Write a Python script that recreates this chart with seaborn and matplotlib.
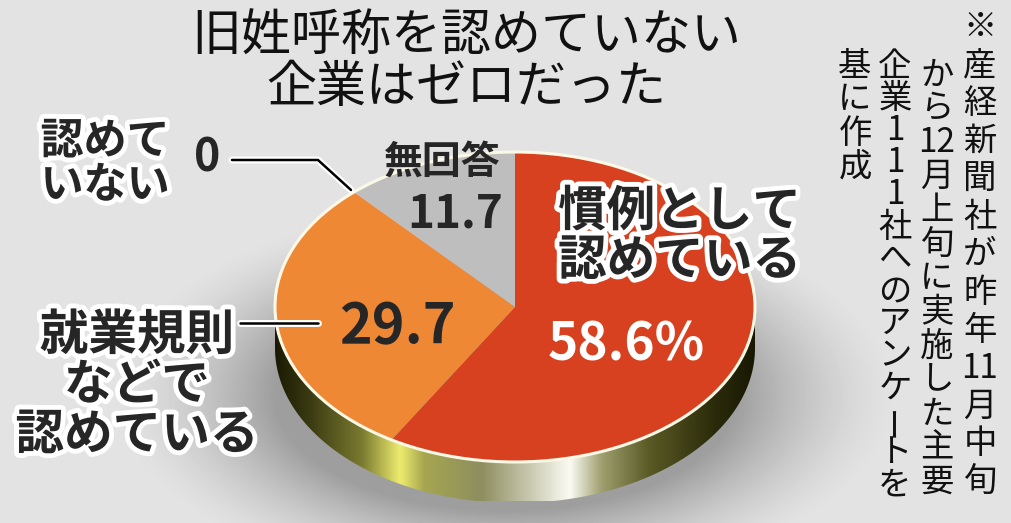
import numpy as np
import matplotlib
matplotlib.use("Agg")
import matplotlib.pyplot as plt
import matplotlib.patheffects as pe
from matplotlib.colors import LinearSegmentedColormap
from matplotlib.patches import Polygon, Ellipse
import seaborn as sns

# --- data ---
categories = ["慣例として\n認めている", "就業規則\nなどで\n認めている", "無回答", "認めて\nいない"]
values = [58.6, 29.7, 11.7, 0]
value_labels = ["58.6%", "29.7", "11.7", "0"]
title_lines = ["旧姓呼称を認めていない", "企業はゼロだった"]
note_columns = [
    ["※", "産", "経", "新", "聞", "社", "が", "昨", "年", "11", "月", "中", "旬"],
    ["か", "ら", "12", "月", "上", "旬", "に", "実", "施", "し", "た", "主", "要"],
    ["企", "業", "1", "1", "1", "社", "へ", "の", "ア", "ン", "ケ", "ー", "ト", "を"],
    ["基", "に", "作", "成"],
]

sns.set_theme(style="white")
plt.rcParams["font.family"] = ["Noto Sans CJK JP", "DejaVu Sans"]
colors = sns.color_palette(["#d8411f", "#ef8834", "#bebebe", "#9a9a9a"])

W, H = 1011, 523
fig = plt.figure(figsize=(W / 100, H / 100), dpi=100)

# background with a soft shadow under the pie
bg = fig.add_axes([0, 0, 1, 1], zorder=0)
yy, xx = np.mgrid[0:H, 0:W]
d = np.hypot((xx - 505) / 300, (yy - 395) / 150)
shade = 0.27 * np.clip((1.32 - d) / 0.55, 0, 1) ** 1.5
bg.imshow(0.89 - shade, cmap="gray", vmin=0, vmax=1, extent=(0, W, H, 0), aspect="auto")
bg.set_xlim(0, W)
bg.set_ylim(H, 0)
bg.axis("off")

# pie, squashed into an ellipse by the axes shape
cx, cy, a, b = 515, 307, 240, 155
depth = 41 / b
pax = fig.add_axes([(cx - 1.25 * a) / W, (H - cy - 1.25 * b) / H, 2.5 * a / W, 2.5 * b / H], zorder=1)
pax.pie(values, colors=colors, startangle=90, counterclock=False, radius=1,
        wedgeprops=dict(linewidth=0, zorder=2))

# metallic rim
t = np.linspace(np.pi, 2 * np.pi, 300)
rim_xy = np.vstack([np.c_[np.cos(t), np.sin(t) - depth],
                    np.c_[np.cos(t[::-1]), np.sin(t[::-1])]])
rim = Polygon(rim_xy, closed=True, facecolor="none", edgecolor="none")
pax.add_patch(rim)
rim_cmap = LinearSegmentedColormap.from_list("rim", [
    (0.00, "#1a1a04"), (0.07, "#3a3a12"), (0.18, "#7a7a30"), (0.26, "#eeec6e"),
    (0.31, "#a6a650"), (0.43, "#8e8e60"), (0.53, "#c8c8b0"), (0.615, "#fbfbf4"),
    (0.68, "#a0a070"), (0.78, "#5a5a25"), (0.92, "#2a2a0a"), (1.00, "#181804")])
im = pax.imshow(np.linspace(0, 1, 256)[None, :], cmap=rim_cmap,
                extent=(-1, 1, -1 - depth, 0), aspect="auto", zorder=1)
im.set_clip_path(rim)
pax.add_patch(Ellipse((0, 0), 2, 2, fill=False, ec="#fbf8e6", lw=2.2, zorder=3))
pax.set_aspect("auto")
pax.set_xlim(-1.25, 1.25)
pax.set_ylim(-1.25, 1.25)
pax.axis("off")

# overlay in pixel coordinates for text and leader lines
ov = fig.add_axes([0, 0, 1, 1], zorder=2)
ov.set_xlim(0, W)
ov.set_ylim(H, 0)
ov.axis("off")

halo = [pe.withStroke(linewidth=7, foreground="white")]
line_fx = [pe.Stroke(linewidth=5, foreground="white"), pe.Normal()]

for i, line in enumerate(title_lines):
    ov.text(466, 37 + 51 * i, line, fontsize=36, ha="center", va="center", color="#111111")

# category names
ov.text(558, 236, categories[0], fontsize=35, fontweight="bold", ha="left", va="center",
        linespacing=1.0, path_effects=halo)
ov.text(137, 385, categories[1], fontsize=35, fontweight="bold", ha="center", va="center",
        linespacing=1.02, path_effects=halo)
ov.text(442, 162, categories[2], fontsize=28, fontweight="bold", ha="center", va="center")
ov.text(105, 163, categories[3], fontsize=31, fontweight="bold", ha="center", va="center",
        linespacing=1.0, path_effects=halo)

# values
ov.text(626, 345, value_labels[0], fontsize=37, fontweight="bold", ha="center", va="center", color="white")
ov.text(397, 327, value_labels[1], fontsize=40, fontweight="bold", ha="center", va="center")
ov.text(455, 214, value_labels[2], fontsize=33, fontweight="bold", ha="center", va="center")
ov.text(207, 158, value_labels[3], fontsize=32, fontweight="bold", ha="center", va="center")

# leader lines
ov.plot([232, 318, 351], [160, 160, 190], color="black", lw=1.8, path_effects=line_fx)
ov.plot([240, 318], [323, 323], color="black", lw=1.8, path_effects=line_fx)

# vertical source note, right to left
col_x = [980, 937, 895, 855]
col_y0 = [28, 75, 66, 66]
col_step = [37.8, 33.9, 32.2, 34]
for tokens, x, y0, step in zip(note_columns, col_x, col_y0, col_step):
    for k, tok in enumerate(tokens):
        ov.text(x, y0 + k * step, tok, fontsize=24, ha="center", va="center",
                rotation=90 if tok == "ー" else 0, color="#111111")

fig.savefig("out.png", dpi=100)
